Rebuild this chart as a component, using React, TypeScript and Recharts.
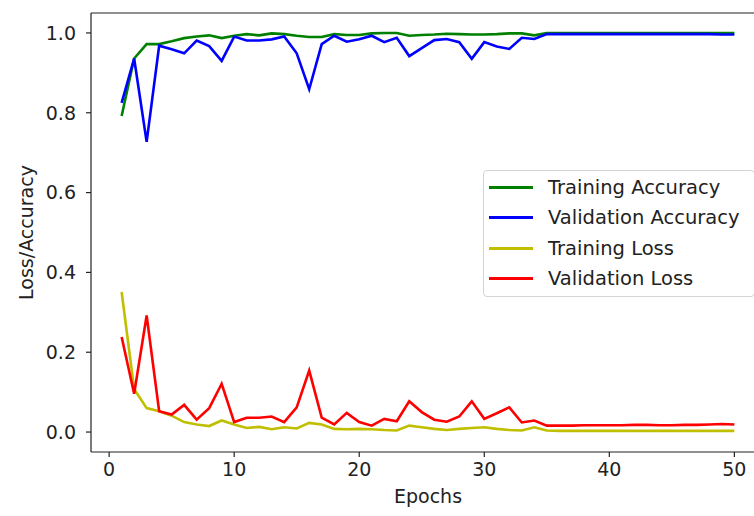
import { Legend, Line, LineChart, ReferenceLine, XAxis, YAxis } from "recharts";

const epochs = Array.from({ length: 50 }, (_, i) => i + 1);

const trainAcc = [
    0.792, 0.936, 0.972, 0.972, 0.979, 0.987, 0.991, 0.994, 0.987, 0.993,
    0.997, 0.994, 0.999, 0.997, 0.993, 0.99, 0.99, 0.997, 0.995, 0.995,
    0.999, 1.0, 1.0, 0.993, 0.995, 0.996, 0.998, 0.997, 0.996, 0.996,
    0.997, 0.999, 0.999, 0.994, 1.0, 1.0, 1.0, 1.0, 1.0, 1.0,
    1.0, 1.0, 1.0, 1.0, 1.0, 1.0, 1.0, 1.0, 1.0, 1.0,
];

const valAcc = [
    0.825, 0.936, 0.727, 0.968, 0.959, 0.949, 0.981, 0.967, 0.93, 0.991,
    0.981, 0.981, 0.984, 0.991, 0.949, 0.859, 0.972, 0.993, 0.978, 0.984,
    0.993, 0.977, 0.988, 0.942, 0.962, 0.982, 0.985, 0.977, 0.935, 0.977,
    0.966, 0.96, 0.988, 0.985, 0.997, 0.997, 0.997, 0.997, 0.997, 0.997,
    0.997, 0.997, 0.997, 0.997, 0.997, 0.997, 0.997, 0.997, 0.996, 0.996,
];

const trainLoss = [
    0.351, 0.108, 0.06, 0.052, 0.041, 0.025, 0.019, 0.015, 0.029, 0.019,
    0.01, 0.013, 0.007, 0.012, 0.009, 0.023, 0.019, 0.008, 0.007, 0.008,
    0.007, 0.005, 0.004, 0.016, 0.012, 0.008, 0.005, 0.008, 0.01, 0.012,
    0.008, 0.005, 0.004, 0.012, 0.004, 0.003, 0.003, 0.003, 0.003, 0.003,
    0.003, 0.003, 0.003, 0.003, 0.003, 0.003, 0.003, 0.003, 0.003, 0.003,
];

const valLoss = [
    0.238, 0.096, 0.292, 0.052, 0.044, 0.068, 0.031, 0.06, 0.121, 0.025,
    0.036, 0.036, 0.039, 0.025, 0.062, 0.154, 0.036, 0.019, 0.048, 0.025,
    0.016, 0.033, 0.027, 0.077, 0.05, 0.031, 0.026, 0.039, 0.077, 0.033,
    0.047, 0.062, 0.024, 0.029, 0.016, 0.016, 0.016, 0.017, 0.017, 0.017,
    0.017, 0.018, 0.018, 0.017, 0.017, 0.018, 0.018, 0.019, 0.02, 0.019,
];

const xTicks = [0, 10, 20, 30, 40, 50];
const yTicks = [0, 0.2, 0.4, 0.6, 0.8, 1.0];

const series = [
    { key: "trainAcc", name: "Training Accuracy", color: "#008000" },
    { key: "valAcc", name: "Validation Accuracy", color: "#0000ff" },
    { key: "trainLoss", name: "Training Loss", color: "#bfbf00" },
    { key: "valLoss", name: "Validation Loss", color: "#ff0000" },
];

const data = epochs.map((epoch, i) => ({
    epoch,
    trainAcc: trainAcc[i],
    valAcc: valAcc[i],
    trainLoss: trainLoss[i],
    valLoss: valLoss[i],
}));

const font = "'DejaVu Sans', sans-serif";
const ink = "#222";
const yDomain = [-0.05, 1.05];

const App = () => {
    return (
        <div
            style={{
                position: "absolute",
                left: 0,
                top: 0,
                width: 754,
                height: 516,
                overflow: "hidden",
                background: "#fff",
                fontFamily: font,
            }}
        >
            <LineChart
                width={770}
                height={516}
                data={data}
                margin={{ top: 13, right: 5, left: 0, bottom: 0 }}
            >
                <XAxis
                    dataKey="epoch"
                    type="number"
                    domain={[-1.45, 52.45]}
                    ticks={xTicks}
                    allowDataOverflow
                    height={64}
                    tickSize={5}
                    tickMargin={6}
                    stroke={ink}
                    strokeWidth={1.2}
                    tick={{ fill: ink, fontSize: 19, fontFamily: font }}
                    label={{
                        value: "Epochs",
                        position: "insideBottom",
                        offset: 13,
                        fill: ink,
                        fontSize: 19,
                        fontFamily: font,
                    }}
                />
                <YAxis
                    type="number"
                    domain={yDomain}
                    ticks={yTicks}
                    allowDataOverflow
                    width={91}
                    tickSize={5}
                    tickMargin={10}
                    stroke={ink}
                    strokeWidth={1.2}
                    tickFormatter={(v: number) => v.toFixed(1)}
                    tick={{ fill: ink, fontSize: 19, fontFamily: font }}
                    label={{
                        value: "Loss/Accuracy",
                        angle: -90,
                        position: "insideLeft",
                        offset: 26,
                        fill: ink,
                        fontSize: 19,
                        fontFamily: font,
                        style: { textAnchor: "middle" },
                    }}
                />
                {/* top spine */}
                <ReferenceLine
                    y={yDomain[1]}
                    stroke={ink}
                    strokeWidth={1.2}
                    ifOverflow="visible"
                />
                <Legend
                    layout="horizontal"
                    align="center"
                    verticalAlign="middle"
                    wrapperStyle={{ left: 483, top: 170, width: 272, height: 127 }}
                    content={() => (
                        <div
                            style={{
                                boxSizing: "border-box",
                                width: 272,
                                height: 127,
                                border: "1px solid #d4d4d4",
                                borderRadius: 4,
                                background: "rgba(255,255,255,0.8)",
                                padding: "1px 0 0 5px",
                            }}
                        >
                            {series.map((s) => (
                                <div
                                    key={s.key}
                                    style={{
                                        display: "flex",
                                        alignItems: "center",
                                        height: 30.5,
                                        fontSize: 19.5,
                                        fontFamily: font,
                                        color: ink,
                                        whiteSpace: "nowrap",
                                    }}
                                >
                                    <div
                                        style={{
                                            width: 44,
                                            height: 3,
                                            background: s.color,
                                            marginRight: 15,
                                        }}
                                    />
                                    <div>{s.name}</div>
                                </div>
                            ))}
                        </div>
                    )}
                />
                {series.map((s) => (
                    <Line
                        key={s.key}
                        type="linear"
                        dataKey={s.key}
                        name={s.name}
                        stroke={s.color}
                        strokeWidth={2.6}
                        dot={false}
                        activeDot={false}
                        isAnimationActive={false}
                    />
                ))}
            </LineChart>
        </div>
    );
};

export default App;
